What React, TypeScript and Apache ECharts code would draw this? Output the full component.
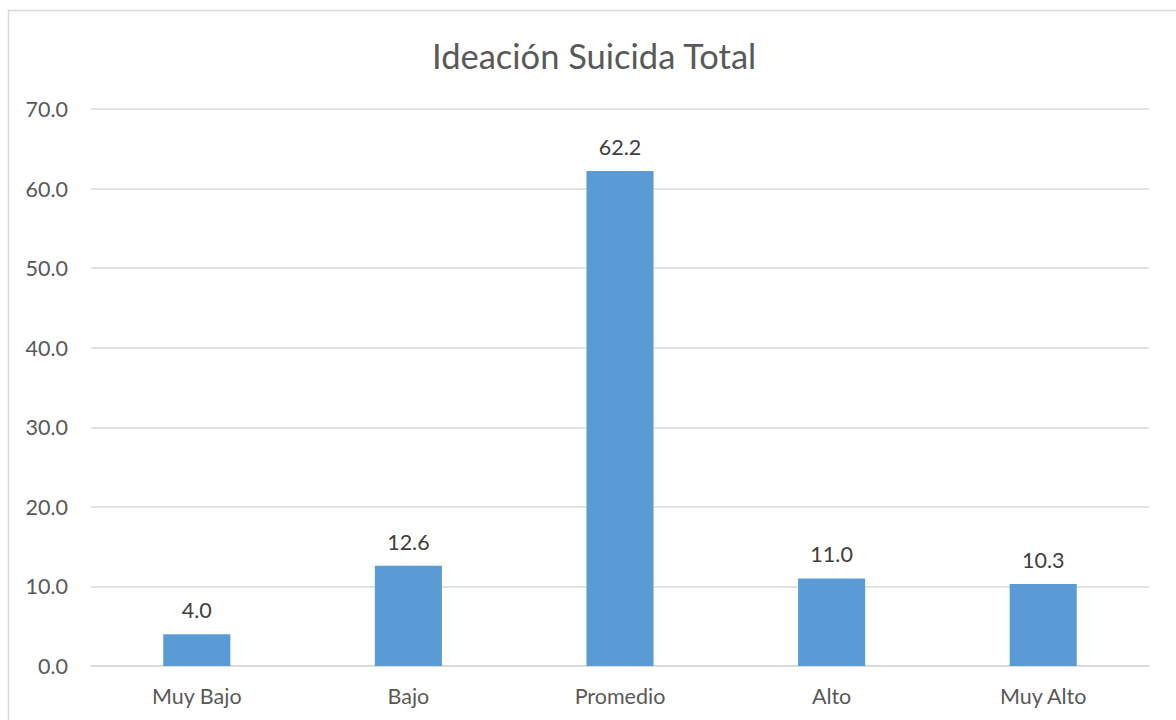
import React, { useEffect, useRef } from "react";
import * as echarts from "echarts";

const categories = ["Muy Bajo", "Bajo", "Promedio", "Alto", "Muy Alto"];
const values = [4.0, 12.6, 62.2, 11.0, 10.3];
const yMin = 0;
const yMax = 70;
const yStep = 10;

const TEXT = "#595959";
const LABEL = "#404040";
const GRID = "#D9D9D9";
const BAR = "#5B9BD5";
const FONT = "Lato, 'Noto Sans', sans-serif";

export default function App() {
  const ref = useRef<HTMLDivElement>(null);

  useEffect(() => {
    if (!ref.current) return;
    const chart = echarts.init(ref.current, null, { renderer: "svg" });
    chart.setOption({
      animation: false,
      backgroundColor: "#ffffff",
      textStyle: { fontFamily: FONT },
      title: {
        text: "Ideación Suicida Total",
        left: 427,
        top: 33,
        textStyle: { color: TEXT, fontSize: 34.5, fontWeight: "normal", fontFamily: FONT },
      },
      graphic: [
        {
          type: "rect",
          shape: { x: 8.5, y: 10.5, width: 1200, height: 800 },
          style: { fill: "none", stroke: GRID, lineWidth: 1.5 },
          silent: true,
        },
      ],
      grid: { left: 91, right: 27, top: 109, bottom: 54, containLabel: false },
      xAxis: {
        type: "category",
        data: categories,
        axisLine: { show: true, lineStyle: { color: GRID, width: 1.5 } },
        axisTick: { show: false },
        axisLabel: { color: TEXT, fontSize: 21.5, margin: 19, fontFamily: FONT },
      },
      yAxis: {
        type: "value",
        min: yMin,
        max: yMax,
        interval: yStep,
        axisLine: { show: false },
        axisTick: { show: false },
        splitLine: { lineStyle: { color: GRID, width: 1.5 } },
        axisLabel: {
          color: TEXT,
          fontSize: 21.5,
          margin: 23,
          fontFamily: FONT,
          formatter: (v: number) => v.toFixed(1),
        },
      },
      series: [
        {
          type: "bar",
          data: values,
          barWidth: "31.7%",
          itemStyle: { color: BAR },
          label: {
            show: true,
            position: "top",
            distance: 13,
            color: LABEL,
            fontSize: 21.5,
            fontFamily: FONT,
            formatter: (p: any) => Number(p.value).toFixed(1),
          },
        },
      ],
    });
    return () => chart.dispose();
  }, []);

  return (
    <div
      ref={ref}
      style={{ position: "fixed", left: 0, top: 0, width: 1176, height: 720 }}
    />
  );
}
